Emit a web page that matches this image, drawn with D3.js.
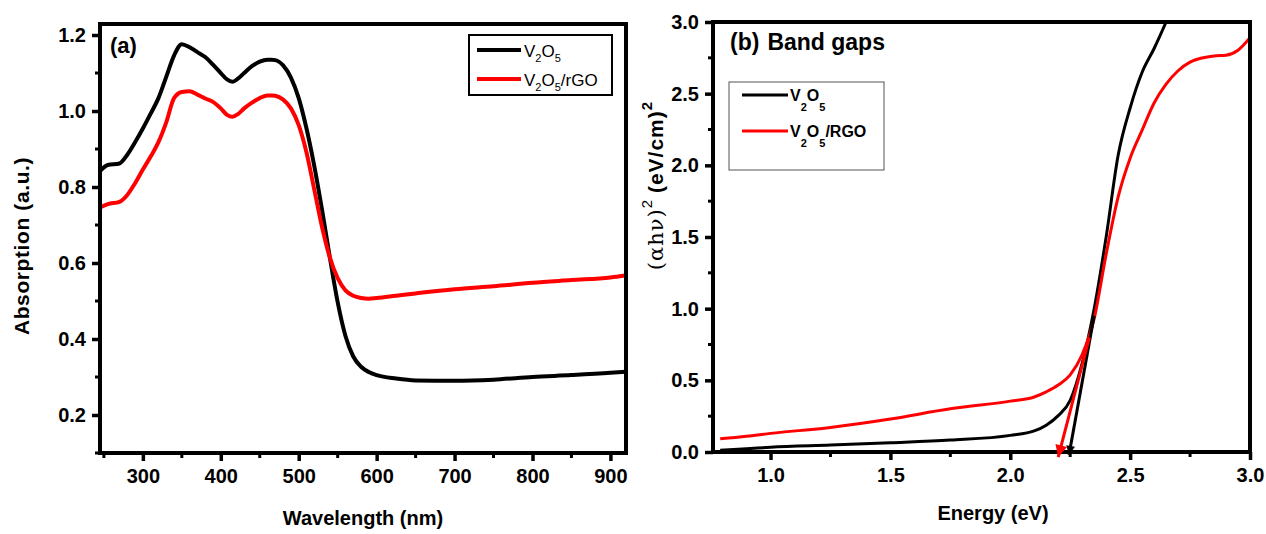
<!DOCTYPE html>
<html>
<head>
<meta charset="utf-8">
<script src="https://cdn.jsdelivr.net/npm/d3@7"></script>
<style>
  body { margin:0; background:#fff; }
  text { font-family:"Liberation Sans", Arial, sans-serif; }
  .tick text { font-weight:bold; font-size:20px; }
</style>
</head>
<body>
<svg id="chart" width="1266" height="534"></svg>
<script>
// panel (a): absorption spectra
var wavelength = [245,255,270,280,290,300,310,320,330,340,350,360,370,380,390,400,408,415,422,430,440,450,460,465,470,480,490,500,510,520,530,540,550,560,570,580,590,600,625,650,700,750,800,850,900,920];
var absV2O5 = [0.842,0.858,0.862,0.885,0.918,0.954,0.993,1.034,1.09,1.146,1.176,1.168,1.155,1.142,1.122,1.10,1.083,1.077,1.085,1.10,1.118,1.13,1.135,1.135,1.134,1.12,1.088,1.034,0.954,0.855,0.739,0.614,0.497,0.408,0.354,0.327,0.313,0.305,0.296,0.291,0.29,0.293,0.30,0.305,0.311,0.314];
var absRGO = [0.746,0.755,0.761,0.779,0.81,0.846,0.88,0.918,0.97,1.034,1.05,1.052,1.043,1.033,1.024,1.007,0.99,0.985,0.992,1.007,1.022,1.034,1.041,1.041,1.04,1.03,1.007,0.963,0.891,0.793,0.694,0.614,0.56,0.528,0.514,0.508,0.506,0.508,0.514,0.52,0.531,0.539,0.548,0.555,0.562,0.567];
var ticksA_x = [300,400,500,600,700,800,900];
var ticksA_y = [0.2,0.4,0.6,0.8,1.0,1.2];

// panel (b): Tauc plot
var energyV2O5 = [0.79,0.9,1.0,1.25,1.5,1.75,2.0,2.1,2.15,2.2,2.25,2.3,2.35,2.4,2.45,2.5,2.55,2.6,2.65,2.7];
var taucV2O5 = [0.012,0.022,0.033,0.048,0.064,0.083,0.116,0.147,0.187,0.254,0.36,0.62,1.0,1.5,2.07,2.4,2.649,2.815,3.0,3.2];
var energyRGO = [0.79,0.9,1.0,1.25,1.5,1.75,2.0,2.1,2.15,2.2,2.25,2.3,2.35,2.4,2.45,2.5,2.55,2.6,2.65,2.7,2.75,2.8,2.85,2.9,2.95,3.0];
var taucRGO = [0.092,0.11,0.13,0.171,0.23,0.301,0.355,0.384,0.42,0.467,0.538,0.68,0.93,1.38,1.78,2.05,2.245,2.435,2.566,2.66,2.72,2.749,2.763,2.768,2.803,2.89];
var ticksB_x = [1.0,1.5,2.0,2.5,3.0];
var ticksB_y = [0.0,0.5,1.0,1.5,2.0,2.5,3.0];
// tangent lines (band gap extrapolation): [start, end] as [eV, value]
var gapV2O5 = [[2.35,0.95],[2.245,-0.02]];
var gapRGO = [[2.33,0.8],[2.2,-0.035]];

var svg = d3.select("#chart");

var defs = svg.append("defs");
defs.append("marker")
    .attr("id","headRed")
    .attr("markerUnits","userSpaceOnUse")
    .attr("viewBox","0 0 10 10")
    .attr("refX",10).attr("refY",5)
    .attr("markerWidth",22).attr("markerHeight",12)
    .attr("orient","auto")
    .append("path").attr("d","M0,0 L10,5 L0,10 Z").attr("fill","#ff0000");
defs.append("marker")
    .attr("id","headBlack")
    .attr("markerUnits","userSpaceOnUse")
    .attr("viewBox","0 0 10 10")
    .attr("refX",10).attr("refY",5)
    .attr("markerWidth",12).attr("markerHeight",9)
    .attr("orient","auto")
    .append("path").attr("d","M0,0 L10,5 L0,10 Z").attr("fill","#000");
defs.append("clipPath").attr("id","clipB")
    .append("rect").attr("x",713).attr("y",22).attr("width",537).attr("height",430);

function frame(x0,y0,x1,y1){
  svg.append("rect")
     .attr("x",x0).attr("y",y0)
     .attr("width",x1-x0).attr("height",y1-y0)
     .attr("fill","none")
     .attr("stroke","#000")
     .attr("stroke-width",4);
}

function drawAxes(xScale,yScale,xTicks,yTicks,xMinor,yMinor,fmt,bottom,left){
  var xa = svg.append("g")
     .attr("transform","translate(0,"+bottom+")")
     .call(d3.axisBottom(xScale).tickValues(xTicks).tickSize(8).tickPadding(8).tickFormat(fmt.x));
  var ya = svg.append("g")
     .attr("transform","translate("+left+",0)")
     .call(d3.axisLeft(yScale).tickValues(yTicks).tickSize(8).tickPadding(6).tickFormat(fmt.y));
  [xa,ya].forEach(function(g){
    g.select(".domain").remove();
    g.selectAll("line").attr("stroke-width",3.5);
  });
  svg.append("g").selectAll("line")
     .data(xMinor).enter().append("line")
     .attr("x1",function(d){return xScale(d);})
     .attr("x2",function(d){return xScale(d);})
     .attr("y1",bottom).attr("y2",bottom+5)
     .attr("stroke","#000").attr("stroke-width",3);
  svg.append("g").selectAll("line")
     .data(yMinor).enter().append("line")
     .attr("y1",function(d){return yScale(d);})
     .attr("y2",function(d){return yScale(d);})
     .attr("x1",left).attr("x2",left-5)
     .attr("stroke","#000").attr("stroke-width",3);
}

// ---------- panel (a)
var xA = d3.scaleLinear().domain([245,920]).range([100,626]);
var yA = d3.scaleLinear().domain([0.1,1.229]).range([453,24]);

var lineA = d3.line()
  .x(function(d){return xA(d[0]);})
  .y(function(d){return yA(d[1]);})
  .curve(d3.curveMonotoneX);

svg.append("path")
   .attr("d",lineA(d3.zip(wavelength,absV2O5)))
   .attr("fill","none").attr("stroke","#000").attr("stroke-width",4);
svg.append("path")
   .attr("d",lineA(d3.zip(wavelength,absRGO)))
   .attr("fill","none").attr("stroke","#ff0000").attr("stroke-width",4);

frame(100,24,626,453);
drawAxes(xA,yA,ticksA_x,ticksA_y,
  [250,350,450,550,650,750,850],[0.1,0.3,0.5,0.7,0.9,1.1],
  {x:d3.format("d"),y:d3.format(".1f")},453,100);

svg.append("text")
   .attr("x",110).attr("y",53)
   .attr("font-size",22).attr("font-weight","bold")
   .text("(a)");

svg.append("text")
   .attr("transform","translate(29,246) rotate(-90)")
   .attr("text-anchor","middle")
   .attr("font-size",21).attr("font-weight","bold")
   .attr("letter-spacing",0.6)
   .text("Absorption (a.u.)");
svg.append("text")
   .attr("x",363).attr("y",525)
   .attr("text-anchor","middle")
   .attr("font-size",20).attr("font-weight","bold")
   .text("Wavelength (nm)");

// legend (a)
var legA = svg.append("g");
legA.append("rect")
    .attr("x",469).attr("y",35).attr("width",143).attr("height",60)
    .attr("fill","#fff").attr("stroke","#000").attr("stroke-width",2);
[{c:"#000",y:50,s:""},{c:"#ff0000",y:79,s:"/rGO"}].forEach(function(d){
  legA.append("line")
      .attr("x1",477).attr("x2",521).attr("y1",d.y).attr("y2",d.y)
      .attr("stroke",d.c).attr("stroke-width",4);
  var t = legA.append("text")
      .attr("x",524).attr("y",d.y+7)
      .attr("font-size",17);
  t.append("tspan").text("V");
  t.append("tspan").attr("font-size",11).attr("dy",5).text("2");
  t.append("tspan").attr("dy",-5).text("O");
  t.append("tspan").attr("font-size",11).attr("dy",5).text("5");
  t.append("tspan").attr("dy",-5).text(d.s);
});

// ---------- panel (b)
var xB = d3.scaleLinear().domain([0.76,3.0]).range([713,1250]);
var yB = d3.scaleLinear().domain([0,3.0]).range([452,22]);

var lineB = d3.line()
  .x(function(d){return xB(d[0]);})
  .y(function(d){return yB(d[1]);})
  .curve(d3.curveMonotoneX);

var plotB = svg.append("g").attr("clip-path","url(#clipB)");
plotB.append("path")
   .attr("d",lineB(d3.zip(energyV2O5,taucV2O5)))
   .attr("fill","none").attr("stroke","#000").attr("stroke-width",3);
plotB.append("path")
   .attr("d",lineB(d3.zip(energyRGO,taucRGO)))
   .attr("fill","none").attr("stroke","#ff0000").attr("stroke-width",3);

frame(713,22,1250,452);
drawAxes(xB,yB,ticksB_x,ticksB_y,
  [1.25,1.75,2.25,2.75],[0.25,0.75,1.25,1.75,2.25,2.75],
  {x:d3.format(".1f"),y:d3.format(".1f")},452,713);

svg.append("line")
   .attr("x1",xB(gapV2O5[0][0])).attr("y1",yB(gapV2O5[0][1]))
   .attr("x2",xB(gapV2O5[1][0])).attr("y2",yB(gapV2O5[1][1]))
   .attr("stroke","#000").attr("stroke-width",3)
   .attr("marker-end","url(#headBlack)");
svg.append("line")
   .attr("x1",xB(gapRGO[0][0])).attr("y1",yB(gapRGO[0][1]))
   .attr("x2",xB(gapRGO[1][0])).attr("y2",yB(gapRGO[1][1]))
   .attr("stroke","#ff0000").attr("stroke-width",3)
   .attr("marker-end","url(#headRed)");

var lab = svg.append("text")
   .attr("x",730).attr("y",50)
   .attr("font-size",23).attr("font-weight","bold");
lab.append("tspan").text("(b)");
lab.append("tspan").attr("dx",8).text("Band gaps");

var yt = svg.append("text")
   .attr("transform","translate(663,186) rotate(-90)")
   .attr("text-anchor","middle")
   .attr("font-size",21);
yt.append("tspan").attr("font-family","'DejaVu Serif', serif").attr("font-size",21).attr("letter-spacing",1).text("(\u03b1h\u03bd)");
yt.append("tspan").attr("font-size",15).attr("dy",-11).text("2");
yt.append("tspan").attr("dy",11).attr("font-weight","bold").attr("letter-spacing",1).text(" (eV/cm)");
yt.append("tspan").attr("font-size",15).attr("dy",-11).attr("font-weight","bold").text("2");

svg.append("text")
   .attr("x",993).attr("y",520)
   .attr("text-anchor","middle")
   .attr("font-size",20).attr("font-weight","bold")
   .text("Energy (eV)");

// legend (b)
var legB = svg.append("g");
legB.append("rect")
    .attr("x",729).attr("y",82).attr("width",155).attr("height",88)
    .attr("fill","#fff").attr("stroke","#555").attr("stroke-width",1);
[{c:"#000",y:95,s:""},{c:"#ff0000",y:131,s:"/RGO"}].forEach(function(d){
  legB.append("line")
      .attr("x1",742).attr("x2",788).attr("y1",d.y).attr("y2",d.y)
      .attr("stroke",d.c).attr("stroke-width",3);
  var t = legB.append("text")
      .attr("x",790).attr("y",d.y+6)
      .attr("font-size",16).attr("font-weight","bold");
  t.append("tspan").text("V");
  t.append("tspan").attr("font-size",11).attr("dy",10).text("2");
  t.append("tspan").attr("dy",-10).text("O");
  t.append("tspan").attr("font-size",11).attr("dy",10).text("5");
  t.append("tspan").attr("dy",-10).text(d.s);
});
</script>
</body>
</html>
